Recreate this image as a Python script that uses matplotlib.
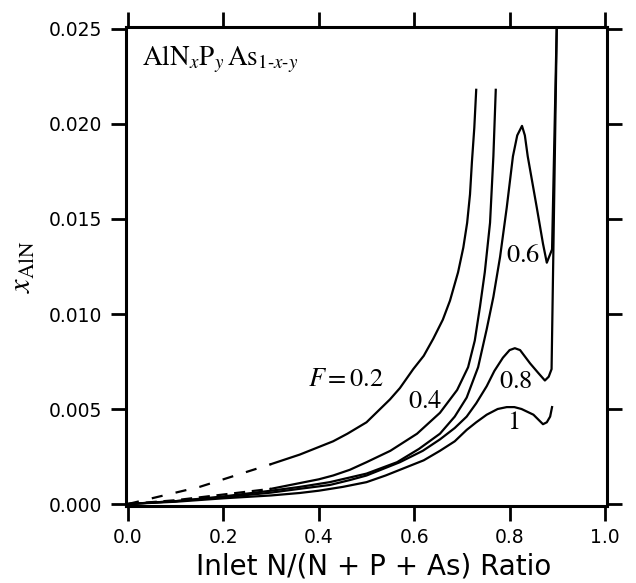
import matplotlib
matplotlib.use('Agg')
import matplotlib.pyplot as plt
import numpy as np

plt.rcParams['mathtext.fontset'] = 'stix'
plt.rcParams['font.family'] = ['DejaVu Sans']

# AlN mole fraction vs inlet N/(N+P+As) ratio, one curve per F value
x02 = [0, 0.05, 0.1, 0.15, 0.2, 0.25, 0.3, 0.36, 0.4, 0.43, 0.46, 0.5, 0.549,
       0.57, 0.598, 0.62, 0.64, 0.66, 0.675, 0.692, 0.703, 0.711, 0.717, 0.721,
       0.726, 0.73]
y02 = [0, 0.0003, 0.0006, 0.0009, 0.0013, 0.0017, 0.0021, 0.0026, 0.0030,
       0.0033, 0.0037, 0.0043, 0.0055, 0.0061, 0.0071, 0.0078, 0.0087, 0.0097,
       0.0107, 0.0122, 0.0135, 0.0148, 0.0163, 0.0180, 0.0198, 0.0218]

x04 = [0, 0.1, 0.2, 0.3, 0.36, 0.4, 0.43, 0.465, 0.5, 0.55, 0.606, 0.654, 0.69,
       0.713, 0.727, 0.738, 0.748, 0.759, 0.766, 0.771]
y04 = [0, 0.0002, 0.0005, 0.0008, 0.0011, 0.0013, 0.0015, 0.0018, 0.0022,
       0.0028, 0.0037, 0.0048, 0.0060, 0.0072, 0.0086, 0.0104, 0.0122, 0.0148,
       0.0183, 0.0218]

x06 = [0, 0.1, 0.2, 0.3, 0.36, 0.423, 0.5, 0.564, 0.61, 0.654, 0.685, 0.71,
       0.734, 0.752, 0.766, 0.780, 0.794, 0.807, 0.816, 0.826, 0.832, 0.838,
       0.857, 0.870, 0.878, 0.889, 0.8995]
y06 = [0, 0.00015, 0.0004, 0.0007, 0.0009, 0.00115, 0.0016, 0.0022, 0.0029,
       0.0037, 0.0046, 0.0056, 0.0072, 0.0092, 0.0109, 0.0130, 0.0156, 0.0183,
       0.0194, 0.0199, 0.0194, 0.0183, 0.0156, 0.0137, 0.0127, 0.0134, 0.026]

x08 = [0, 0.1, 0.2, 0.3, 0.36, 0.423, 0.465, 0.5, 0.57, 0.618, 0.654, 0.685,
       0.71, 0.73, 0.752, 0.768, 0.786, 0.800, 0.811, 0.822, 0.843, 0.860,
       0.874, 0.882, 0.888, 0.8995]
y08 = [0, 0.00015, 0.00035, 0.0006, 0.0008, 0.0010, 0.00126, 0.0015, 0.0022,
       0.0028, 0.0034, 0.0040, 0.0046, 0.0053, 0.0062, 0.0070, 0.0077, 0.0081,
       0.0082, 0.0081, 0.0074, 0.0069, 0.0065, 0.0067, 0.0071, 0.026]

x10 = [0, 0.1, 0.2, 0.3, 0.36, 0.4, 0.45, 0.5, 0.54, 0.57, 0.62, 0.654, 0.685,
       0.71, 0.73, 0.752, 0.775, 0.794, 0.81, 0.825, 0.85, 0.862, 0.87, 0.878,
       0.885, 0.889]
y10 = [0, 0.00012, 0.0003, 0.00045, 0.00058, 0.0007, 0.0009, 0.00115, 0.0015,
       0.0018, 0.0023, 0.0028, 0.0033, 0.0039, 0.0043, 0.0047, 0.0050, 0.0051,
       0.0051, 0.0050, 0.0047, 0.0044, 0.0042, 0.0043, 0.0046, 0.0051]

# label text, anchor (x, y) in data units
curve_labels = [r'$F = 0.2$', r'$0.4$', r'$0.6$', r'$0.8$', r'$1$']
label_x = [0.378, 0.588, 0.793, 0.778, 0.795]
label_y = [0.0066, 0.0054, 0.0131, 0.0065, 0.0043]

xticks = [0.0, 0.2, 0.4, 0.6, 0.8, 1.0]
yticks = [0.000, 0.005, 0.010, 0.015, 0.020, 0.025]

fig = plt.figure(figsize=(6.36, 5.83), dpi=100)
ax = fig.add_axes([126 / 636, 1 - 506 / 583, (607 - 126) / 636, (506 - 27) / 583])

lw = 1.6
# the F = 0.2 and 0.4 curves are broken near the origin
x02a, y02a = np.array(x02), np.array(y02)
ax.plot(x02a[x02a <= 0.32], y02a[x02a <= 0.32], color='black', lw=lw, ls=(0, (5, 6)))
ax.plot(x02a[x02a >= 0.3], y02a[x02a >= 0.3], color='black', lw=lw)

x04a, y04a = np.array(x04), np.array(y04)
ax.plot(x04a[x04a <= 0.3], y04a[x04a <= 0.3], color='black', lw=lw, ls=(0, (5, 3)))
ax.plot(x04a[x04a >= 0.3], y04a[x04a >= 0.3], color='black', lw=lw)

ax.plot(x06, y06, color='black', lw=lw)
ax.plot(x08, y08, color='black', lw=lw)
ax.plot(x10, y10, color='black', lw=lw)

for txt, lx, ly in zip(curve_labels, label_x, label_y):
    ax.text(lx, ly, txt, fontsize=19, ha='left', va='center')

ax.text(0.03, 0.0231, r'$\mathrm{AlN}_x\mathrm{P}_y\,\mathrm{As}_{1\text{-}x\text{-}y}$',
        fontsize=19.5, ha='left', va='baseline')

ax.set_xlim(-0.0042, 1.0042)
ax.set_ylim(-0.000105, 0.025105)
ax.set_xticks(xticks)
ax.set_yticks(yticks)
ax.set_xticklabels(['%.1f' % v for v in xticks])
ax.set_yticklabels(['%.3f' % v for v in yticks])

ax.tick_params(direction='out', length=11, width=2, labelsize=13.5,
               top=True, right=True, labeltop=False, labelright=False)
ax.tick_params(axis='y', pad=6)
ax.tick_params(axis='x', pad=5)
for sp in ax.spines.values():
    sp.set_linewidth(2.2)

ax.set_xlabel('Inlet N/(N + P + As) Ratio', fontsize=20, va='center')
ax.xaxis.set_label_coords(0.515, (506 - 567) / 479)
ax.set_ylabel(r'$x_{\mathrm{AlN}}$', fontsize=22, labelpad=9)

fig.savefig('out.png', dpi=100)
